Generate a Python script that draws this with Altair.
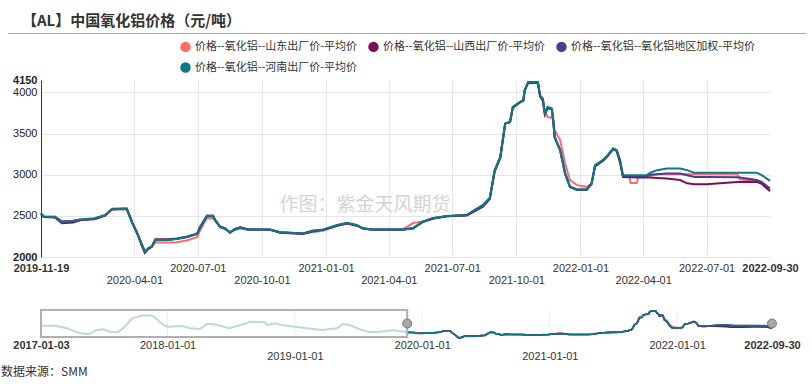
import altair as alt
import pandas as pd

TITLE = "【AL】中国氧化铝价格（元/吨）"
SOURCE = "数据来源：SMM"
WATERMARK = "作图：紫金天风期货"

series_names = [
    "价格--氧化铝--山东出厂价-平均价",
    "价格--氧化铝--山西出厂价-平均价",
    "价格--氧化铝--氧化铝地区加权-平均价",
    "价格--氧化铝--河南出厂价-平均价",
]
series_colors = ["#ff6b6b", "#7c0f57", "#4b3b93", "#0b7884"]

dates = [
    "2019-11-19", "2019-11-23", "2019-12-09", "2019-12-19", "2020-01-04", "2020-01-14", "2020-02-04", "2020-02-19", "2020-02-29", "2020-03-21",
    "2020-03-29", "2020-04-05", "2020-04-12", "2020-04-16", "2020-04-21", "2020-04-26", "2020-05-01", "2020-05-18", "2020-06-01", "2020-06-15",
    "2020-06-30", "2020-07-04", "2020-07-14", "2020-07-23", "2020-07-26", "2020-08-02", "2020-08-09", "2020-08-16", "2020-08-23", "2020-08-31",
    "2020-09-11", "2020-10-13", "2020-10-27", "2020-11-29", "2020-12-12", "2020-12-28", "2021-01-17", "2021-01-31", "2021-02-14", "2021-02-23",
    "2021-03-09", "2021-04-21", "2021-05-06", "2021-05-20", "2021-06-03", "2021-06-23", "2021-07-22", "2021-07-31", "2021-08-14", "2021-08-24",
    "2021-08-31", "2021-09-08", "2021-09-15", "2021-09-22", "2021-09-26", "2021-10-06", "2021-10-11", "2021-10-13", "2021-10-18", "2021-11-01",
    "2021-11-04", "2021-11-08", "2021-11-11", "2021-11-15", "2021-11-21", "2021-11-23", "2021-11-25", "2021-12-03", "2021-12-10", "2021-12-17",
    "2021-12-27", "2022-01-10", "2022-01-17", "2022-01-22", "2022-02-02", "2022-02-09", "2022-02-17", "2022-02-22", "2022-02-27", "2022-03-03",
    "2022-03-12", "2022-03-14", "2022-03-23", "2022-03-25", "2022-04-06", "2022-04-11", "2022-04-21", "2022-05-05", "2022-05-24", "2022-06-03",
    "2022-06-14", "2022-07-01", "2022-08-14", "2022-08-18", "2022-09-11", "2022-09-18", "2022-09-30",
]

shandong = [
    2530, 2490, 2490, 2435, 2440, 2455, 2460, 2500, 2575, 2580,
    2420, 2300, 2150, 2070, 2110, 2125, 2180, 2175, 2180, 2200,
    2240, 2320, 2470, 2470, 2440, 2360, 2340, 2300, 2330, 2345,
    2330, 2330, 2300, 2285, 2300, 2320, 2380, 2405, 2385, 2345,
    2330, 2335, 2412, 2430, 2470, 2495, 2510, 2555, 2630, 2720,
    3050, 3216, 3620, 3640, 3822, 3882, 3903, 4024, 4125, 4125,
    3964, 3924, 3760, 3700, 3690, 3661, 3540, 3418, 3135, 2933,
    2873, 2852, 2893, 3105, 3170, 3230, 3317, 3297, 3176, 2980,
    2980, 2900, 2900, 2975, 2973, 2990, 3006, 3006, 3006, 3006,
    3006, 3006, 3006, 2942, 2925, 2900, 2812,
]
shanxi = [
    2520, 2485, 2480, 2410, 2420, 2445, 2460, 2505, 2585, 2590,
    2420, 2290, 2130, 2050, 2095, 2130, 2215, 2215, 2225, 2245,
    2280, 2350, 2500, 2500, 2450, 2370, 2350, 2300, 2340, 2360,
    2335, 2330, 2295, 2280, 2310, 2330, 2380, 2410, 2380, 2345,
    2330, 2330, 2350, 2425, 2465, 2495, 2505, 2545, 2610, 2705,
    3040, 3200, 3620, 3640, 3815, 3875, 3900, 4020, 4115, 4115,
    3950, 3900, 3730, 3810, 3790, 3650, 3450, 3290, 3010, 2850,
    2815, 2815, 2885, 3100, 3165, 3225, 3310, 3285, 3140, 2970,
    2968, 2968, 2967, 2967, 2966, 2966, 2960, 2954, 2935, 2895,
    2885, 2885, 2910, 2910, 2913, 2890, 2800,
]
jiaquan = [
    2530, 2490, 2485, 2425, 2435, 2450, 2465, 2505, 2580, 2585,
    2410, 2285, 2140, 2060, 2100, 2125, 2206, 2206, 2220, 2240,
    2280, 2360, 2495, 2495, 2445, 2365, 2345, 2295, 2335, 2355,
    2335, 2330, 2300, 2285, 2315, 2330, 2385, 2410, 2385, 2345,
    2335, 2335, 2350, 2430, 2470, 2495, 2510, 2555, 2625, 2715,
    3050, 3210, 3620, 3640, 3820, 3880, 3900, 4020, 4120, 4120,
    3960, 3920, 3740, 3820, 3800, 3660, 3460, 3300, 3020, 2855,
    2820, 2820, 2890, 3110, 3170, 3230, 3315, 3295, 3160, 2980,
    2982, 2982, 2983, 2984, 2985, 3000, 3006, 3014, 3014, 2994,
    2973, 2973, 2968, 2965, 2935, 2913, 2833,
]
henan = [
    2530, 2490, 2490, 2430, 2440, 2457, 2470, 2510, 2580, 2585,
    2412, 2290, 2145, 2065, 2105, 2125, 2206, 2206, 2222, 2246,
    2287, 2367, 2500, 2500, 2448, 2367, 2348, 2295, 2335, 2360,
    2335, 2335, 2300, 2285, 2319, 2335, 2388, 2416, 2388, 2348,
    2335, 2335, 2348, 2430, 2470, 2497, 2510, 2560, 2630, 2720,
    3055, 3216, 3620, 3640, 3822, 3882, 3903, 4024, 4125, 4125,
    3964, 3924, 3742, 3822, 3803, 3661, 3458, 3297, 3015, 2852,
    2820, 2820, 2893, 3115, 3176, 3236, 3317, 3297, 3176, 2994,
    2994, 2994, 2994, 2994, 2994, 3022, 3055, 3075, 3075, 3055,
    3022, 3022, 3022, 3022, 3022, 2994, 2925,
]

# history shown only in the bottom navigator (before the zoom window)
hist_dates = [
    "2017-01-03", "2017-02-12", "2017-03-18", "2017-04-25", "2017-05-21", "2017-06-12", "2017-06-30", "2017-07-20",
    "2017-08-12", "2017-09-01", "2017-09-21", "2017-10-14", "2017-11-03", "2017-11-20", "2017-12-04", "2017-12-19",
    "2018-01-02", "2018-02-14", "2018-03-06", "2018-04-04", "2018-04-24", "2018-05-11", "2018-05-31", "2018-06-28",
    "2018-07-19", "2018-08-16", "2018-08-25", "2018-10-07", "2018-10-13", "2018-11-04", "2018-11-24", "2019-01-01",
    "2019-02-04", "2019-03-22", "2019-05-01", "2019-05-18", "2019-06-07", "2019-07-06", "2019-08-04", "2019-09-01",
    "2019-10-08", "2019-11-19",
]
hist_values = [
    3000, 3000, 2810, 2420, 2350, 2680, 2730, 2550,
    2520, 2930, 3570, 3740, 3800, 3740, 3440, 3060,
    2930, 2980, 2810, 2750, 3130, 3130, 3000, 2810,
    2980, 3190, 3310, 3260, 3060, 3190, 3060, 2930,
    2810, 2680, 2810, 3130, 3060, 2730, 2500, 2550,
    2650, 2530,
]

y_ticks = [2000, 2500, 3000, 3500, 4000, 4150]
x_ticks = ["2019-11-19", "2020-04-01", "2020-07-01", "2020-10-01", "2021-01-01", "2021-04-01",
           "2021-07-01", "2021-10-01", "2022-01-01", "2022-04-01", "2022-07-01", "2022-09-30"]
nav_ticks = ["2017-01-03", "2018-01-01", "2019-01-01", "2020-01-01", "2021-01-01", "2022-01-01", "2022-09-30"]
nav_grid = ["2018-01-01", "2019-01-01", "2020-01-01", "2021-01-01", "2022-01-01"]
nav_window = ["2017-01-03", "2019-11-19"]
nav_handles = ["2019-11-19", "2022-09-30"]

assert all(len(s) == len(dates) for s in [shandong, shanxi, jiaquan, henan])
assert len(hist_dates) == len(hist_values)


def dt(s):
    y, m, d = (int(p) for p in s.split("-"))
    return alt.DateTime(year=y, month=m, date=d, utc=True)


rows = []
for name, vals in zip(series_names, [shandong, shanxi, jiaquan, henan]):
    for d, v in zip(dates, vals):
        rows.append({"date": d, "series": name, "value": v})
df = pd.DataFrame(rows)
hist_df = pd.DataFrame({"date": hist_dates, "value": hist_values})
grid_df = pd.DataFrame({"date": nav_grid})
win_df = pd.DataFrame({"start": [nav_window[0]], "end": [nav_window[1]]})
handle_df = pd.DataFrame({"date": nav_handles})

LAT = "Liberation Sans"
CJK = "Noto Sans CJK SC"
DATE_EXPR = "utcFormat(datum.value, '%Y-%m-%d')"

W, H = 729, 177
NAV_W = 731
NAV_TOP, NAV_BOT = 231, 258

color_scale = alt.Scale(domain=series_names, range=series_colors)

# ---------------- main chart ----------------
x_main = alt.X(
    "date:T",
    scale=alt.Scale(type="utc", domain=[dt(dates[0]), dt(dates[-1])]),
    axis=alt.Axis(
        title=None, values=[dt(s) for s in x_ticks], labelExpr=DATE_EXPR,
        domain=False, ticks=False, labelOverlap=False, labelFlush=False, labelBound=False,
        labelFont=LAT, labelFontSize=11, labelColor="#333",
        labelPadding={"condition": {"test": "utcmonth(datum.value) == 3 || utcmonth(datum.value) == 9", "value": 17}, "value": 5},
        labelFontWeight={"condition": {"test": "utcdate(datum.value) != 1", "value": "bold"}, "value": "normal"},
        grid=True, gridColor="#e6e6e6",
        gridOpacity={"condition": {"test": "utcdate(datum.value) != 1", "value": 0}, "value": 1},
    ),
)
y_main = alt.Y(
    "value:Q",
    scale=alt.Scale(domain=[2000, 4150], nice=False, zero=False),
    axis=alt.Axis(
        title=None, values=y_ticks, format="d", domain=True, domainColor="#333", ticks=False,
        labelFont=LAT, labelFontSize=11, labelColor="#222", labelPadding=4,
        labelFontWeight={"condition": {"test": "datum.value == 2000 || datum.value == 4150", "value": "bold"}, "value": "normal"},
        grid=True, gridColor="#e6e6e6",
        gridOpacity={"condition": {"test": "datum.value == 4150", "value": 0}, "value": 1},
    ),
)

main_lines = alt.Chart(df).mark_line(strokeWidth=2).encode(
    x=x_main,
    y=y_main,
    color=alt.Color(
        "series:N", scale=color_scale,
        legend=alt.Legend(
            title=None, orient="none", legendX=139, legendY=-39, direction="horizontal", columns=3,
            symbolType="circle", symbolSize=30, symbolStrokeWidth=5, symbolOpacity=1,
            labelFont=CJK, labelFontSize=11, labelColor="#333", labelLimit=400,
            columnPadding=2, rowPadding=-6,
        ),
    ),
)

# ---------------- navigator ----------------
nav_axis = alt.Axis(
    title=None, orient="bottom", offset=81, values=[dt(s) for s in nav_ticks], labelExpr=DATE_EXPR,
    domain=False, ticks=False, grid=False, labelOverlap=False, labelFlush=False, labelBound=False,
    labelFont=LAT, labelFontSize=11, labelColor="#333",
    labelPadding={"condition": {"test": "utcyear(datum.value) == 2019 || utcyear(datum.value) == 2021", "value": 12}, "value": 1},
    labelFontWeight={"condition": {"test": "utcdate(datum.value) != 1", "value": "bold"}, "value": "normal"},
)
nav_xscale = alt.Scale(type="utc", domain=[dt(hist_dates[0]), dt(dates[-1])], range=[0, NAV_W])
nav_yscale = alt.Scale(domain=[2065, 4125], range=[NAV_BOT, NAV_TOP], nice=False, zero=False)

nav_grid_rules = alt.Chart(grid_df).mark_rule(color="#eeeeee", strokeWidth=1).encode(
    x=alt.X("date:T", scale=nav_xscale, axis=nav_axis),
    y=alt.value(NAV_TOP), y2=alt.value(NAV_BOT),
)
nav_hist = alt.Chart(hist_df).mark_line(strokeWidth=2, color="#bcd8e2").encode(
    x=alt.X("date:T", scale=nav_xscale, axis=nav_axis),
    y=alt.Y("value:Q", scale=nav_yscale, axis=None),
)
nav_lines = alt.Chart(df).mark_line(strokeWidth=1.6).encode(
    x=alt.X("date:T", scale=nav_xscale, axis=nav_axis),
    y=alt.Y("value:Q", scale=nav_yscale, axis=None),
    color=alt.Color("series:N", scale=color_scale, legend=None),
)
nav_box = alt.Chart(win_df).mark_rect(fill="#ffffff", fillOpacity=0, stroke="#b0b0b0", strokeWidth=2).encode(
    x=alt.X("start:T", scale=nav_xscale, axis=nav_axis),
    x2="end:T",
    y=alt.value(NAV_TOP - 1), y2=alt.value(NAV_BOT - 1),
)
nav_handle = alt.Chart(handle_df).mark_point(shape="circle", filled=True, size=80, color="#a8a8a8", stroke="#777777", strokeWidth=1, opacity=1).encode(
    x=alt.X("date:T", scale=nav_xscale, axis=nav_axis),
    y=alt.value((NAV_TOP + NAV_BOT) / 2 - 1),
)
nav = alt.layer(nav_grid_rules, nav_hist, nav_lines, nav_box, nav_handle)

# ---------------- texts ----------------
watermark = alt.Chart(pd.DataFrame({"t": [WATERMARK]})).mark_text(
    font=CJK, fontSize=19, color="#d4d4d4", align="center", baseline="middle"
).encode(text="t:N", x=alt.value(324), y=alt.value(125))

title = alt.Chart(pd.DataFrame({"t": [TITLE]})).mark_text(
    font=CJK, fontSize=15, fontWeight="bold", color="#333", align="left", baseline="middle"
).encode(text="t:N", x=alt.value(-19), y=alt.value(-59))

title_rule = alt.Chart(pd.DataFrame({"t": [TITLE]})).mark_rule(color="#aaaaaa", strokeWidth=1.2).encode(
    x=alt.value(-33), x2=alt.value(765), y=alt.value(-46.5)
)

source = alt.Chart(pd.DataFrame({"t": [SOURCE]})).mark_text(
    font=CJK, fontSize=12, color="#333", align="left", baseline="middle"
).encode(text="t:N", x=alt.value(-40), y=alt.value(292))

chart = alt.layer(
    watermark, main_lines, nav, title, title_rule, source
).resolve_scale(
    x="independent", y="independent"
).properties(
    width=W, height=H,
    padding={"left": 41, "top": 80, "right": 42, "bottom": 127},
    autosize=alt.AutoSizeParams(type="none"),
    background="#ffffff",
).configure_view(stroke=None)

chart.save("out.html", embed_options={"renderer": "svg", "actions": False})
